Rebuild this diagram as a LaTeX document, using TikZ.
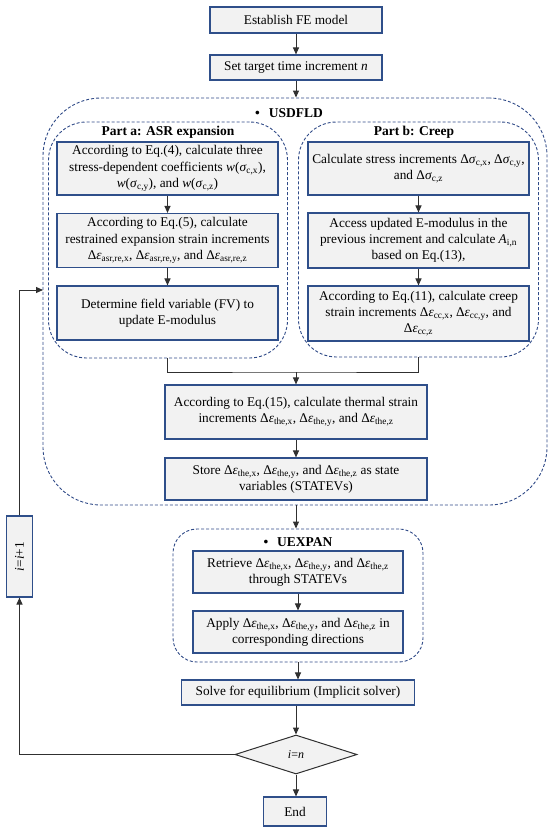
\documentclass[tikz,border=0pt]{standalone}
\usepackage{fontspec}
\usepackage{graphicx}
\setmainfont{Liberation Serif}
\usetikzlibrary{arrows.meta,shapes.geometric}
\definecolor{boxblue}{HTML}{2F4F8A}
\definecolor{boxfill}{HTML}{F2F2F2}
\definecolor{dashblue}{HTML}{2F4A87}
\definecolor{linegray}{HTML}{303030}
\newcommand{\mysig}[1]{\textit{σ}\textsubscript{#1}}
\newcommand{\myeps}[1]{Δ\textit{ε}\textsubscript{#1}}
\begin{document}
\begin{tikzpicture}[x=1pt,y=-1pt,
  font=\fontsize{13.3}{16.2}\selectfont,
  pbox/.style={draw=boxblue, line width=1.1pt, fill=boxfill, align=center, inner sep=1pt},
  grp/.style={draw=dashblue, line width=0.9pt, dash pattern=on 3pt off 2pt},
  arr/.style={draw=linegray, line width=1pt, -{Triangle[length=7pt,width=6pt]}},
  ln/.style={draw=linegray, line width=1pt},
  lbl/.style={font=\fontsize{13.5}{15}\selectfont\bfseries, inner sep=0pt}]
\useasboundingbox (0,0) rectangle (550,833);

% top boxes
\node[pbox, minimum width=172pt, minimum height=26pt] (b1) at (296,20) {Establish FE model};
\node[pbox, minimum width=172pt, minimum height=25pt] (b2) at (296,67.5) {Set target time increment \textit{n}};

% groups
\node[grp, rounded corners=58pt, minimum width=504pt, minimum height=407pt] (usd) at (295,301.5) {};
\node[lbl] (usdl) at (289,113) {•\hspace{9pt}USDFLD};
\node[grp, rounded corners=38pt, minimum width=239pt, minimum height=236pt] (parta) at (168,240) {};
\node[lbl] (pal) at (168,132) {Part a: ASR expansion};
\node[grp, rounded corners=38pt, minimum width=240pt, minimum height=235pt] (partb) at (418.5,239.5) {};
\node[lbl] (pbl) at (414,132) {Part b: Creep};

% part a
\node[pbox, minimum width=221pt, minimum height=53pt] (a1) at (167.5,168.5)
  {According to Eq.(4), calculate three\\stress-dependent coefficients \textit{w}(\mysig{c,x}),\\\textit{w}(\mysig{c,y}), and \textit{w}(\mysig{c,z})};
\node[pbox, minimum width=221pt, minimum height=54pt] (a2) at (167.5,240.5)
  {According to Eq.(5), calculate\\restrained expansion strain increments\\\myeps{asr,re,x}, \myeps{asr,re,y}, and \myeps{asr,re,z}};
\node[pbox, minimum width=221pt, minimum height=54pt] (a3) at (167.5,313)
  {Determine field variable (FV) to\\update E-modulus};

% part b
\node[pbox, minimum width=221pt, minimum height=53pt] (b1b) at (418.5,168.5)
  {Calculate stress increments Δ\mysig{c,x}, Δ\mysig{c,y},\\and Δ\mysig{c,z}};
\node[pbox, minimum width=221pt, minimum height=55pt] (b2b) at (418.5,240.5)
  {Access updated E-modulus in the\\previous increment and calculate \textit{A}\textsubscript{i,n}\\based on Eq.(13),};
\node[pbox, minimum width=221pt, minimum height=55pt] (b3b) at (418.5,313.5)
  {According to Eq.(11), calculate creep\\strain increments \myeps{cc,x}, \myeps{cc,y}, and\\\myeps{cc,z}};

% thermal and store
\node[pbox, minimum width=262pt, minimum height=54pt] (th) at (296,412)
  {According to Eq.(15), calculate thermal strain\\increments \myeps{the,x}, \myeps{the,y}, and \myeps{the,z}};
\node[pbox, minimum width=262pt, minimum height=42pt] (st) at (296,479)
  {Store \myeps{the,x}, \myeps{the,y}, and \myeps{the,z} as state\\variables (STATEVs)};

% UEXPAN
\node[grp, rounded corners=24pt, minimum width=250pt, minimum height=133pt] (uex) at (298,595.5) {};
\node[lbl] (uexl) at (298,542) {•\hspace{9pt}UEXPAN};
\node[pbox, minimum width=210pt, minimum height=42pt] (re) at (298,572)
  {Retrieve \myeps{the,x}, \myeps{the,y}, and \myeps{the,z}\\through STATEVs};
\node[pbox, minimum width=210pt, minimum height=42pt] (ap) at (298,632)
  {Apply \myeps{the,x}, \myeps{the,y}, and \myeps{the,z} in\\corresponding directions};

% bottom
\node[pbox, minimum width=233pt, minimum height=25pt] (so) at (298,692.5) {Solve for equilibrium (Implicit solver)};
\node[diamond, draw=linegray, fill=boxfill, line width=1pt, minimum width=122pt, minimum height=39pt, inner sep=0pt,
  font=\fontsize{12}{14}\selectfont] (dia) at (296,754.5) {\textit{i}=\textit{n}};
\node[pbox, minimum width=63pt, minimum height=29pt] (en) at (295,811.5) {End};

% loop box
\node[pbox, minimum width=26pt, minimum height=81pt, inner sep=0pt] (loop) at (19.5,556.5)
  {\rotatebox{90}{\textit{i}=\textit{i}+1}};

% connectors
\draw[arr] (b1) -- (b2);
\draw[arr] (b2) -- (b2 |- usd.north);
\draw[arr] (a1) -- (a2);
\draw[arr] (a2) -- (a3);
\draw[arr] (b1b) -- (b2b);
\draw[arr] (b2b) -- (b3b);
\coordinate (m) at (296,372);
\draw[ln] (a3.south |- parta.south) |- (m) -| (b3b.south |- partb.south);
\draw[arr] (m) -- (th.north);
\draw[arr] (th) -- (st);
\draw[arr] (st.south |- usd.south) -- (st.south |- uex.north);
\draw[arr] (re) -- (ap);
\draw[arr] (so.north |- uex.south) -- (so.north);
\draw[arr] (so.south -| dia.north) -- (dia.north);
\draw[arr] (dia.south) -- (dia.south |- en.north);
\draw[arr] (dia.west) -| (loop.south);
\coordinate (ent) at (43,290);
\draw[arr] (loop.north) |- (ent);
\end{tikzpicture}
\end{document}
